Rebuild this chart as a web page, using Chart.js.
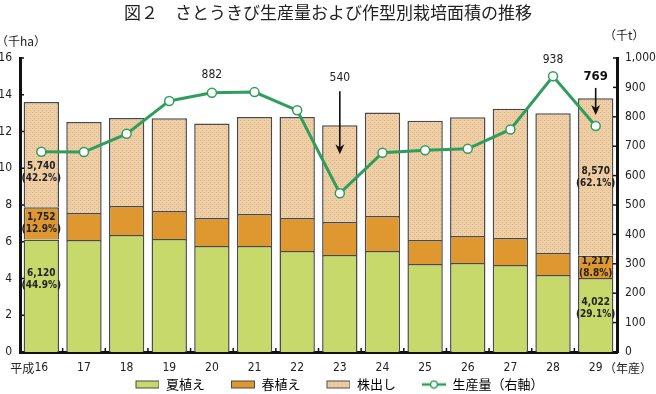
<!DOCTYPE html>
<html lang="ja">
<head>
    <meta charset="UTF-8">
    <title>さとうきび生産量および作型別栽培面積の推移</title>
    <script src="https://cdn.jsdelivr.net/npm/chart.js"></script>
    <style>
        html, body { margin: 0; padding: 0; background: #fff; }
        #chart { display: block; }
    </style>
</head>
<body>
    <canvas id="chart" width="656" height="394"></canvas>

    <script>
        // 年産（平成）
        const years = ['16', '17', '18', '19', '20', '21', '22', '23', '24', '25', '26', '27', '28', '29'];
        // 作型別栽培面積（千ha）
        const summerArea = [6.12, 6.10, 6.37, 6.15, 5.77, 5.77, 5.50, 5.28, 5.50, 4.79, 4.84, 4.73, 4.19, 4.022];
        const springArea = [1.752, 1.46, 1.58, 1.52, 1.52, 1.74, 1.79, 1.79, 1.90, 1.31, 1.47, 1.47, 1.20, 1.217];
        const ratoonArea = [5.74, 4.96, 4.78, 5.05, 5.15, 5.28, 5.50, 5.27, 5.64, 6.49, 6.46, 7.04, 7.60, 8.57];
        // 生産量（千t）
        const production = [681, 680, 742, 854, 882, 884, 822, 540, 678, 686, 691, 757, 938, 769];
        // 構成比（%）: 平成16年産、29年産
        const share16 = [44.9, 12.9, 42.2];
        const share29 = [29.1, 8.8, 62.1];
        // 軸目盛
        const areaTicks = [0, 2, 4, 6, 8, 10, 12, 14, 16];
        const prodTicks = [0, 100, 200, 300, 400, 500, 600, 700, 800, 900, 1000];

        const NUM_FONT = '"Liberation Sans Narrow", "DejaVu Sans Condensed", "Roboto", sans-serif';
        const JP_FONT = '"Noto Sans CJK JP", "Noto Sans", sans-serif';
        const GREEN = '#2f9e5c';
        const SUMMER = '#c6d96a';
        const SPRING = '#df982f';
        const EDGE = '#4a4a4a';

        // 株出し: dotted peach fill
        function makeDots() {
            const c = document.createElement('canvas');
            c.width = 4; c.height = 4;
            const g = c.getContext('2d');
            g.fillStyle = '#f2cea3';
            g.fillRect(0, 0, 4, 4);
            g.fillStyle = '#d9b48c';
            g.fillRect(0, 0, 1, 1);
            g.fillRect(2, 2, 1, 1);
            g.fillStyle = '#cfc4c0';
            g.fillRect(2, 0, 1, 1);
            return c;
        }
        const dotPattern = document.createElement('canvas').getContext('2d').createPattern(makeDots(), 'repeat');

        // legend swatches (left part transparent = spacing between items)
        function swatch(fill) {
            const c = document.createElement('canvas');
            c.width = 47; c.height = 10;
            const g = c.getContext('2d');
            g.fillStyle = fill;
            g.fillRect(23.5, 1.5, 23, 7);
            g.strokeStyle = EDGE;
            g.lineWidth = 1;
            g.strokeRect(23.5, 1.5, 23, 7);
            return c;
        }
        function lineSwatch() {
            const c = document.createElement('canvas');
            c.width = 47; c.height = 10;
            const g = c.getContext('2d');
            g.strokeStyle = GREEN;
            g.lineWidth = 2.5;
            g.beginPath(); g.moveTo(23, 5); g.lineTo(47, 5); g.stroke();
            g.fillStyle = '#fff';
            g.lineWidth = 1.5;
            g.beginPath(); g.arc(35, 5, 3.5, 0, Math.PI * 2); g.fill(); g.stroke();
            return c;
        }
        const legendIcons = [swatch(SUMMER), swatch(SPRING), swatch(dotPattern), lineSwatch()];

        function fmt(v) {
            return Math.round(v * 1000).toLocaleString('en-US');
        }

        function arrow(ctx, x, y0, y1) {
            ctx.strokeStyle = '#111';
            ctx.fillStyle = '#111';
            ctx.lineWidth = 1.6;
            ctx.beginPath();
            ctx.moveTo(x, y0);
            ctx.lineTo(x, y1 - 4);
            ctx.stroke();
            ctx.beginPath();
            ctx.moveTo(x, y1);
            ctx.lineTo(x - 4.5, y1 - 10);
            ctx.lineTo(x, y1 - 7);
            ctx.lineTo(x + 4.5, y1 - 10);
            ctx.closePath();
            ctx.fill();
        }

        const decor = {
            id: 'decor',
            afterDraw(chart) {
                const ctx = chart.ctx;
                const xs = chart.scales.x;
                const ys = chart.scales.y;
                const y1s = chart.scales.y1;
                const area = chart.chartArea;
                ctx.save();

                // inner tick marks
                ctx.strokeStyle = '#111';
                ctx.lineWidth = 1.5;
                areaTicks.forEach(v => {
                    const y = ys.getPixelForValue(v);
                    ctx.beginPath(); ctx.moveTo(area.left, y); ctx.lineTo(area.left + 4, y); ctx.stroke();
                });
                prodTicks.forEach(v => {
                    const y = y1s.getPixelForValue(v);
                    ctx.beginPath(); ctx.moveTo(area.right - 4, y); ctx.lineTo(area.right, y); ctx.stroke();
                });
                const step = xs.getPixelForValue(1) - xs.getPixelForValue(0);
                for (let i = 0; i < years.length - 1; i++) {
                    const x = xs.getPixelForValue(i) + step / 2;
                    ctx.beginPath(); ctx.moveTo(x, area.bottom); ctx.lineTo(x, area.bottom - 4); ctx.stroke();
                }

                // units and era labels
                ctx.fillStyle = '#222';
                ctx.textBaseline = 'middle';
                ctx.font = '12px ' + JP_FONT;
                ctx.textAlign = 'left';
                ctx.fillText('（千ha）', -4, 41);
                ctx.fillText('（千t）', 604, 35);
                ctx.fillText('（年産）', 604, 368);
                ctx.textAlign = 'right';
                ctx.fillText('平成', xs.getPixelForValue(0) - 7, 368);

                // in-bar labels for 16 and 29
                ctx.font = 'bold 10px ' + NUM_FONT;
                ctx.textAlign = 'center';
                ctx.fillStyle = '#222';
                const inBar = (i, shares, pos) => {
                    const x = xs.getPixelForValue(i);
                    const vals = [summerArea[i], springArea[i], ratoonArea[i]];
                    vals.forEach((v, k) => {
                        const y = ys.getPixelForValue(pos[k]);
                        ctx.fillText(fmt(v), x, y - 6);
                        ctx.fillText('(' + shares[k].toFixed(1) + '%)', x, y + 6);
                    });
                };
                inBar(0, share16, [3.95, 7.0, 9.8]);
                inBar(years.length - 1, share29, [2.35, 4.6, 9.5]);

                // production callouts
                const px = i => xs.getPixelForValue(i);
                const py = i => y1s.getPixelForValue(production[i]);
                ctx.font = '12px ' + NUM_FONT;
                ctx.fillStyle = '#222';
                ctx.fillText(String(production[4]), px(4), py(4) - 18);
                ctx.fillText(String(production[12]), px(12), py(12) - 16);
                ctx.fillText(String(production[7]), px(7), py(7) - 115);
                arrow(ctx, px(7), py(7) - 102, py(7) - 39);
                ctx.font = 'bold 13px ' + NUM_FONT;
                ctx.fillText(String(production[13]), px(13), py(13) - 49);
                arrow(ctx, px(13), py(13) - 38, py(13) - 11);

                ctx.restore();
            }
        };

        const ctx = document.getElementById('chart').getContext('2d');
        const chart = new Chart(ctx, {
            type: 'bar',
            data: {
                labels: years,
                datasets: [
                    {
                        label: '夏植え',
                        data: summerArea,
                        backgroundColor: SUMMER,
                        borderColor: EDGE,
                        borderWidth: 1.5,
                        yAxisID: 'y',
                        order: 1
                    },
                    {
                        label: '春植え',
                        data: springArea,
                        backgroundColor: SPRING,
                        borderColor: EDGE,
                        borderWidth: 1.5,
                        yAxisID: 'y',
                        order: 1
                    },
                    {
                        label: '株出し',
                        data: ratoonArea,
                        backgroundColor: dotPattern,
                        borderColor: EDGE,
                        borderWidth: 1.5,
                        yAxisID: 'y',
                        order: 1
                    },
                    {
                        type: 'line',
                        label: '生産量（右軸）',
                        data: production,
                        borderColor: GREEN,
                        borderWidth: 3,
                        pointStyle: 'circle',
                        pointRadius: 4.5,
                        pointBackgroundColor: '#fff',
                        pointBorderColor: GREEN,
                        pointBorderWidth: 1.5,
                        tension: 0,
                        yAxisID: 'y1',
                        order: 0
                    }
                ]
            },
            options: {
                responsive: false,
                animation: false,
                datasets: {
                    bar: { barPercentage: 0.83, categoryPercentage: 1.0 }
                },
                layout: { padding: { bottom: -7 } },
                plugins: {
                    title: {
                        display: true,
                        text: '図２　さとうきび生産量および作型別栽培面積の推移',
                        color: '#222',
                        font: { family: JP_FONT, size: 17, weight: 'normal' },
                        padding: { top: 2, bottom: 35.6 }
                    },
                    legend: {
                        position: 'bottom',
                        labels: {
                            usePointStyle: true,
                            pointStyleWidth: 47,
                            padding: 3,
                            color: '#222',
                            font: { family: JP_FONT, size: 13 },
                            generateLabels(c) {
                                return c.data.datasets.map((ds, i) => ({
                                    text: ds.label,
                                    pointStyle: legendIcons[i],
                                    datasetIndex: i,
                                    hidden: false,
                                    lineWidth: 0
                                }));
                            }
                        }
                    },
                    tooltip: { enabled: false }
                },
                scales: {
                    x: {
                        stacked: true,
                        grid: { display: false, drawTicks: false },
                        border: { display: true, color: '#111', width: 3 },
                        ticks: {
                            color: '#222',
                            font: { family: NUM_FONT, size: 12 },
                            padding: 9,
                            maxRotation: 0,
                            autoSkip: false
                        },
                        afterFit(s) { s.height = 23; }
                    },
                    y: {
                        stacked: true,
                        position: 'left',
                        min: 0,
                        max: 16,
                        afterBuildTicks(s) { s.ticks = areaTicks.map(v => ({ value: v })); },
                        grid: { display: false, drawTicks: false },
                        border: { display: true, color: '#111', width: 3 },
                        ticks: {
                            color: '#222',
                            font: { family: NUM_FONT, size: 12 },
                            padding: 8
                        },
                        afterFit(s) { s.width = 20; }
                    },
                    y1: {
                        position: 'right',
                        min: 0,
                        max: 1000,
                        afterBuildTicks(s) { s.ticks = prodTicks.map(v => ({ value: v })); },
                        grid: { display: false, drawTicks: false },
                        border: { display: true, color: '#111', width: 3 },
                        ticks: {
                            color: '#222',
                            font: { family: NUM_FONT, size: 12 },
                            padding: 8,
                            callback: v => v.toLocaleString('en-US')
                        },
                        afterFit(s) { s.width = 39; }
                    }
                }
            },
            plugins: [decor]
        });
    </script>
</body>
</html>
